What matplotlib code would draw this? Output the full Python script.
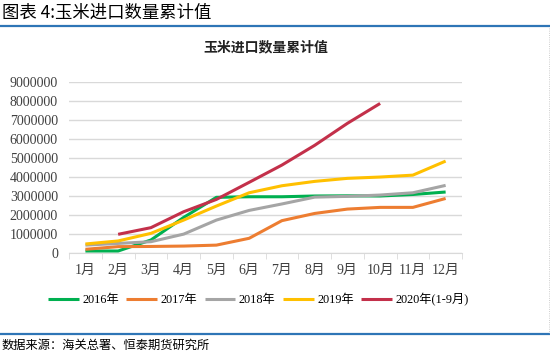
import matplotlib.pyplot as plt
import numpy as np

plt.rcParams['font.family'] = ['Noto Sans CJK SC', 'DejaVu Sans']

months = ['1月', '2月', '3月', '4月', '5月', '6月', '7月', '8月', '9月', '10月', '11月', '12月']
y2016 = [90000, 90000, 670000, 1860000, 2920000, 2950000, 2950000, 2990000, 3000000, 2990000, 3070000, 3200000]
y2017 = [180000, 320000, 330000, 350000, 400000, 760000, 1690000, 2070000, 2300000, 2390000, 2390000, 2860000]
y2018 = [400000, 490000, 580000, 980000, 1720000, 2230000, 2570000, 2930000, 2970000, 3040000, 3160000, 3550000]
y2019 = [460000, 620000, 1020000, 1720000, 2460000, 3160000, 3530000, 3760000, 3920000, 3990000, 4090000, 4830000]
# 2020 starts at Feb (Jan-Feb combined)
y2020_months = months[1:10]
y2020 = [970000, 1320000, 2160000, 2810000, 3710000, 4620000, 5660000, 6820000, 7870000]

series = [
    ('2016年', months, y2016, '#00B050'),
    ('2017年', months, y2017, '#ED7D31'),
    ('2018年', months, y2018, '#A5A5A5'),
    ('2019年', months, y2019, '#FFC000'),
    ('2020年(1-9月)', y2020_months, y2020, '#C3304A'),
]

fig = plt.figure(figsize=(5.5, 3.53), dpi=100)
ax = fig.add_axes([0.1255, 0.2841, 0.7145, 0.4836])

xpos = {m: i for i, m in enumerate(months)}
for name, ms, vals, col in series:
    ax.plot([xpos[m] for m in ms], vals, color=col, lw=2.2, label=name,
            solid_capstyle='butt')

fam = ['Liberation Serif', 'Noto Sans CJK SC']
ax.set_xlim(-0.5, 11.5)
ax.set_ylim(0, 9000000)
ax.set_yticks(np.arange(0, 9000001, 1000000))
ax.set_yticklabels([str(v) for v in range(0, 9000001, 1000000)],
                   family=fam, fontsize=10, color='#404040')
ax.set_xticks(range(12))
ax.set_xticklabels(months, family=fam, fontsize=10, color='#404040')
ax.set_xticks(np.arange(-0.5, 12, 1), minor=True)
ax.tick_params(axis='x', which='major', length=0, pad=8)
ax.tick_params(axis='x', which='minor', length=4, color='#D9D9D9')
ax.tick_params(axis='y', length=0, pad=8)
ax.grid(axis='y', color='#D9D9D9', lw=1)
ax.set_axisbelow(True)
for s in ['top', 'right', 'left']:
    ax.spines[s].set_visible(False)
ax.spines['bottom'].set_color('#D9D9D9')

ax.set_title('玉米进口数量累计值', fontsize=10, fontweight='bold', color='#222222', pad=22)

fig.legend(loc='center', bbox_to_anchor=(0.47, 0.152), ncol=5, frameon=False,
           handlelength=2.5, handletextpad=0.3, columnspacing=0.6,
           prop={'family': fam, 'size': 8.8})

fig.text(0.003, 0.965, '图表 4:玉米进口数量累计值', fontsize=12.5, va='center')
fig.add_artist(plt.Line2D([0, 1], [1 - 26 / 353, 1 - 26 / 353], color='#2E75B6', lw=1.6))
fig.add_artist(plt.Line2D([0, 1], [1 - 334 / 353, 1 - 334 / 353], color='#2E75B6', lw=1.6))
fig.add_artist(plt.Line2D([0.998, 0.998], [1 - 28 / 353, 1 - 333 / 353], color='#BFBFBF', lw=0.6, ls=':'))
fig.text(0.003, 1 - 345 / 353, '数据来源：海关总署、恒泰期货研究所', fontsize=8.8, style='italic', va='center')

fig.savefig('out.png', dpi=100)
